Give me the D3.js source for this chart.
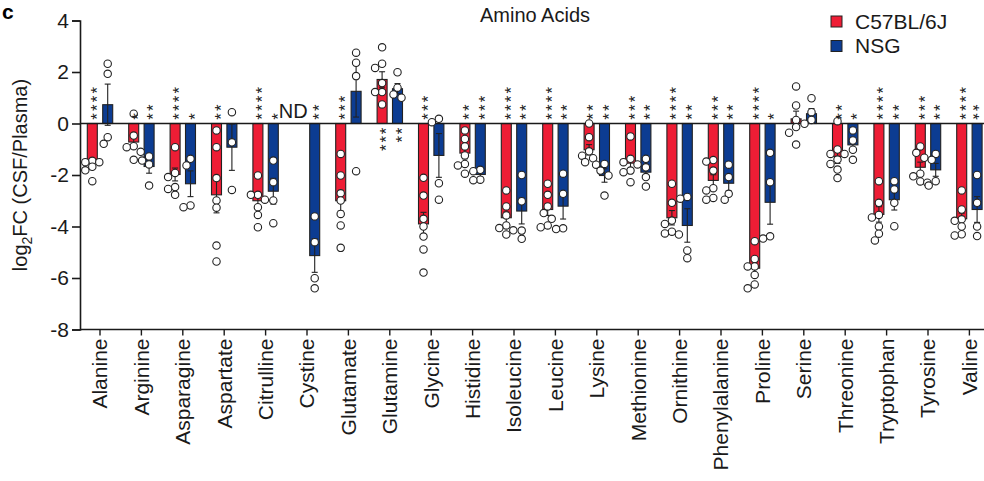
<!DOCTYPE html>
<html><head><meta charset="utf-8">
<script src="https://cdn.jsdelivr.net/npm/d3@7"></script>
<style>
html,body{margin:0;padding:0;background:#fff;}
svg{display:block;font-family:"Liberation Sans",Arial,Helvetica,sans-serif;}
</style></head>
<body>
<svg id="chart" width="984" height="481"></svg>
<script>
const categories = ["Alanine","Arginine","Asparagine","Aspartate","Citrulline","Cystine","Glutamate","Glutamine","Glycine","Histidine","Isoleucine","Leucine","Lysine","Methionine","Ornithine","Phenylalanine","Proline","Serine","Threonine","Tryptophan","Tyrosine","Valine"];
const seriesNames = ["C57BL/6J","NSG"];
const yTicks = [-8,-6,-4,-2,0,2,4];

const c57Mean = [-1.5,-0.72,-1.98,-2.77,-3.0,null,-3.0,1.71,-3.9,-1.15,-3.66,-3.34,-1.02,-1.54,-3.66,-2.21,-5.62,0.18,-1.28,-3.53,-1.7,-3.7];
const nsgMean = [0.73,-1.67,-2.34,-0.92,-2.63,-5.13,1.25,1.35,-1.24,-1.98,-3.4,-3.21,-2.02,-1.89,-3.96,-2.32,-3.06,0.38,-0.83,-2.96,-1.8,-3.34];

const c57Sem = [0.12,0.22,0.25,0.7,0.25,null,0.4,0.3,0.45,0.22,0.22,0.23,0.2,0.2,0.28,0.22,0.25,0.3,0.27,0.3,0.2,0.22];
const nsgSem = [0.8,0.26,0.5,0.9,0.5,0.65,1.0,0.2,0.85,0.1,0.5,0.5,0.26,0.23,0.65,0.3,0.85,0.2,0.25,0.4,0.25,0.5];

const c57Points = [
 [-1.45,-1.5,-1.5,-1.68,-1.82,-2.24],
 [0.38,-0.47,-0.88,-0.92,-1.1,-1.41],
 [-0.92,-1.92,-2.08,-2.47,-2.54,-2.77],
 [-0.27,-0.92,-2.12,-2.99,-3.27,-4.74,-5.36],
 [-2.02,-2.77,-2.77,-2.96,-3.25,-3.55,-4.03],
 [],
 [-1.18,-2.02,-2.71,-2.99,-3.51,-3.96,-4.83],
 [2.96,2.32,2.16,1.57,1.22,1.22,0.74],
 [-2.11,-2.8,-3.7,-4.0,-4.39,-4.89,-5.79],
 [-0.27,-0.6,-0.89,-1.24,-1.57,-1.63,-1.95],
 [-2.6,-3.22,-3.57,-3.96,-4.06,-4.15,-4.31],
 [-2.34,-2.77,-3.22,-3.48,-3.7,-3.96,-4.03],
 [0.0,-0.53,-1.08,-1.25,-1.35,-1.5,-1.6],
 [-0.5,-1.37,-1.5,-1.59,-1.83,-1.89,-2.28],
 [-2.34,-3.08,-3.77,-3.9,-4.2,-4.27,-4.31],
 [-1.42,-1.48,-1.83,-2.51,-2.6,-2.89,-2.96],
 [-4.57,-5.26,-5.55,-5.55,-5.88,-6.25,-6.4],
 [1.44,0.7,0.14,-0.14,-0.36,-0.82],
 [0.09,-1.01,-1.18,-1.18,-1.4,-1.57,-1.79,-2.12],
 [-2.24,-3.08,-3.55,-3.65,-4.0,-4.28,-4.54],
 [-0.89,-1.14,-1.33,-1.95,-2.05,-2.25,-2.3],
 [-2.6,-3.34,-3.72,-3.78,-4.0,-4.3,-4.35]
];
const nsgPoints = [
 [2.32,1.93,-0.53,-0.79],
 [-1.28,-1.44,-1.59,-2.41],
 [-1.37,-1.63,-3.18,-3.25],
 [0.44,-0.73,-2.58],
 [-1.44,-2.28,-2.99,-3.87],
 [-3.61,-4.61,-6.01,-6.4],
 [2.75,2.36,1.84,-1.85],
 [1.99,1.39,1.13,1.0],
 [0.18,0.05,-2.32,-2.96],
 [-1.8,-1.85,-2.18,-2.2],
 [-2.0,-3.02,-4.16,-4.48],
 [-1.95,-2.73,-4.07,-4.1],
 [-1.57,-1.83,-2.02,-2.8],
 [-1.37,-1.7,-2.08,-2.45],
 [-2.85,-2.92,-4.93,-5.23],
 [-1.6,-2.08,-2.73,-2.96],
 [-1.14,-2.28,-4.38,-4.47],
 [0.98,0.44,0.14,-0.01],
 [-0.27,-0.66,-1.02,-1.41],
 [-2.24,-2.56,-3.08,-3.99],
 [-1.18,-1.41,-2.24,-2.41],
 [-2.0,-3.08,-4.0,-4.37]
];
const c57Stars = ["****","*","****","**","****","","***","***","***","**","****","****","**","***","****","***","****","","**","****","***","****"];
const nsgStars = ["","**","*","","*","**","","**","","***","**","**","**","**","**","**","*","","*","**","**","**"];
const ndLabel = ["","","","","","ND","","","","","","","","","","","","","","","",""];

const colors = ["#EE1D35","#0C3C92"];
const svg = d3.select("#chart");
const W = 984, H = 481;
svg.append("rect").attr("width",W).attr("height",H).attr("fill","#fff");

const axisX0 = 80, step = 41.4;
const x = d3.scaleBand().domain(categories).range([axisX0 - 0.7, axisX0 - 0.7 + step*categories.length]).padding(0);
const y = d3.scaleLinear().domain([-8,4]).range([329.5,20.5]);
const barW = 10, off = 7.7;
const cx = (c, s) => x(c) + x.bandwidth()/2 + (s === 0 ? -off : off);
const ink = "#1a1a1a";

// y axis
const yAxis = svg.append("g").attr("transform",`translate(${axisX0},0)`)
  .call(d3.axisLeft(y).tickValues(yTicks).tickSize(8).tickPadding(3).tickFormat(d => String(d)));
yAxis.select(".domain").attr("stroke",ink).attr("stroke-width",1.6);
yAxis.selectAll(".tick line").attr("stroke",ink).attr("stroke-width",1.6);
yAxis.selectAll(".tick text").attr("font-size",21).attr("fill",ink).attr("font-family","Liberation Sans, Arial, sans-serif");

// x axis
const xAxis = svg.append("g").attr("transform",`translate(0,${y(-8)})`)
  .call(d3.axisBottom(x).tickSize(6).tickSizeOuter(0).tickFormat(""));
xAxis.select(".domain").attr("stroke",ink).attr("stroke-width",1.6).attr("d",`M${axisX0},0H${W}`);
xAxis.selectAll(".tick line").attr("stroke",ink).attr("stroke-width",1.4);
svg.append("g").selectAll("text").data(categories).join("text")
  .attr("transform", d => `translate(${x(d)+x.bandwidth()/2},${y(-8)+9}) rotate(-90)`)
  .attr("dy","0.35em").attr("text-anchor","end").attr("font-size",21).attr("fill",ink)
  .text(d => d);

// bars
const means = [c57Mean, nsgMean], sems = [c57Sem, nsgSem], pts = [c57Points, nsgPoints], stars = [c57Stars, nsgStars];
const gBars = svg.append("g");
[0,1].forEach(s => {
  categories.forEach((c,i) => {
    const m = means[s][i];
    if (m === null) return;
    gBars.append("rect")
      .attr("x", cx(c,s) - barW/2).attr("width", barW)
      .attr("y", Math.min(y(m), y(0))).attr("height", Math.abs(y(m)-y(0)))
      .attr("fill", colors[s]).attr("stroke","#222").attr("stroke-width",1.1);
  });
});
// zero line
svg.append("line").attr("x1",axisX0).attr("x2",W).attr("y1",y(0)).attr("y2",y(0)).attr("stroke",ink).attr("stroke-width",1.6);

// error bars
const gErr = svg.append("g").attr("stroke","#222").attr("stroke-width",1.1).attr("fill","none");
[0,1].forEach(s => {
  categories.forEach((c,i) => {
    const m = means[s][i], e = sems[s][i];
    if (m === null) return;
    const xc = cx(c,s);
    gErr.append("line").attr("x1",xc).attr("x2",xc).attr("y1",y(m-e)).attr("y2",y(m+e));
    [m-e, m+e].forEach(v => gErr.append("line").attr("x1",xc-3).attr("x2",xc+3).attr("y1",y(v)).attr("y2",y(v)));
  });
});

// points with simple collision offsets
const gPts = svg.append("g");
const offsets = [0,-4,4,-7,7];
[0,1].forEach(s => {
  categories.forEach((c,i) => {
    const vals = pts[s][i].slice().sort((a,b)=>b-a);
    const placed = [];
    vals.forEach(v => {
      const py = y(v);
      let k = 0;
      for (; k < offsets.length; k++) {
        const ok = placed.every(p => Math.hypot(p.dx - offsets[k], p.py - py) >= 7);
        if (ok) break;
      }
      if (k >= offsets.length) k = 0;
      placed.push({dx: offsets[k], py});
      gPts.append("circle").attr("cx", cx(c,s) + offsets[k]).attr("cy", py).attr("r",3.7)
        .attr("fill","#fff").attr("stroke","#222").attr("stroke-width",1.1);
    });
  });
});

// significance stars: one rotated text per stack (stars run vertically)
const starFs = 17, starAdv = 0.389*starFs;
const gStars = svg.append("g").attr("fill","#222").attr("font-size",starFs);
[0,1].forEach(s => {
  categories.forEach((c,i) => {
    const str = stars[s][i], m = means[s][i];
    if (!str || m === null) return;
    const n = str.length;
    const p = m < 0 ? 8.8 : 8.3;
    const xc = cx(c,s);
    const nearEdge = xc + 0.82*starFs > W;
    // centres of the top-most and bottom-most stars
    const topC = m < 0 ? y(0) - 7 - (n-1)*p : y(0) + 7.5;
    const botC = m < 0 ? y(0) - 7 : y(0) + 7.5 + (n-1)*p;
    const t = gStars.append("text")
      .attr("dy","0.6em")
      .attr("letter-spacing", (p - starAdv).toFixed(2))
      .text(str);
    if (nearEdge) t.attr("transform", `translate(${xc},${topC - starAdv/2}) rotate(90)`);
    else t.attr("transform", `translate(${xc},${botC + starAdv/2}) rotate(-90)`);
  });
});
// ND labels
svg.append("g").selectAll("text").data(categories.filter((c,i)=>ndLabel[i])).join("text")
  .attr("x", c => cx(c,0) - 6).attr("y", y(0) - 6).attr("text-anchor","middle")
  .attr("font-size",20).attr("fill",ink).text(c => ndLabel[categories.indexOf(c)]);

// y title
const yt = svg.append("text").attr("transform",`translate(27,${(y(4)+y(-8))/2}) rotate(-90)`)
  .attr("text-anchor","middle").attr("font-size",20).attr("fill",ink);
yt.append("tspan").text("log");
yt.append("tspan").attr("font-size",14).attr("dy","0.35em").text("2");
yt.append("tspan").attr("dy","-0.25em").text("FC (CSF/Plasma)");

// title
svg.append("text").attr("x",535).attr("y",22).attr("text-anchor","middle").attr("font-size",20).attr("fill",ink).text("Amino Acids");
// panel letter
svg.append("text").attr("x",2).attr("y",19).attr("font-size",21).attr("font-weight","bold").attr("fill","#000").text("c");

// legend
const lg = svg.append("g");
seriesNames.forEach((n,s) => {
  lg.append("rect").attr("x",831).attr("y",16 + s*24.5).attr("width",11).attr("height",11)
    .attr("fill",colors[s]).attr("stroke","#222").attr("stroke-width",1);
  lg.append("text").attr("x",855).attr("y",28.5 + s*24.5).attr("font-size",21).attr("fill",ink).text(n);
});
</script>
</body></html>
